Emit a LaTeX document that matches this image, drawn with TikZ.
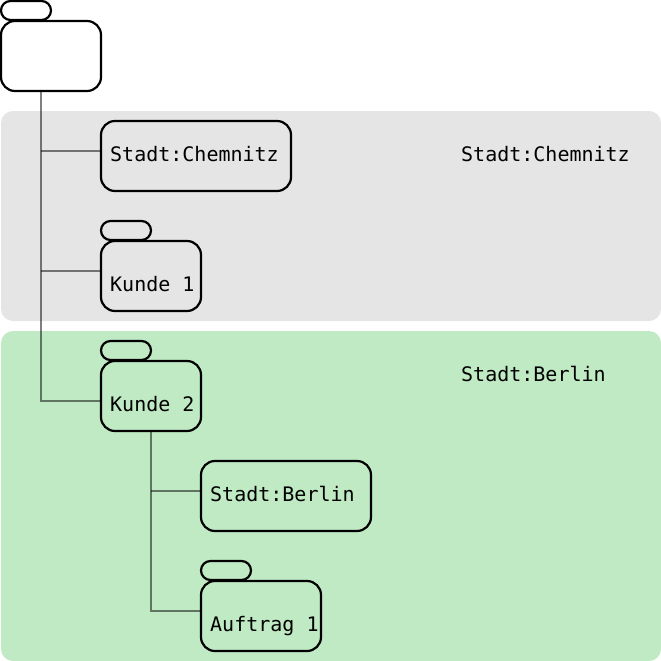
\documentclass[tikz,border=0pt]{standalone}
\usepackage{fontspec}
\setmonofont{DejaVu Sans Mono}
\definecolor{bandgray}{RGB}{229,229,229}
\definecolor{bandgreen}{RGB}{192,234,196}
\tikzset{
  band/.style={rounded corners=12pt},
  item/.style={draw=black, line width=2.2pt, rounded corners=14pt, inner sep=0pt, outer sep=0pt, anchor=north west, minimum height=70pt},
  tab/.style={draw=black, line width=2.2pt, rounded corners=9.5pt, inner sep=0pt, outer sep=0pt, anchor=north west, minimum width=50pt, minimum height=19pt},
  branch/.style={draw=black, draw opacity=0.5, line width=1.5pt},
  txt/.style={font=\ttfamily\fontsize{20}{24}\selectfont, inner sep=0pt, anchor=base west}
}
\begin{document}
\begin{tikzpicture}[x=1pt, y=-1pt]
\useasboundingbox (0,0) rectangle (661,661);
% bands
\fill[band, bandgray] (1,111) rectangle (661,321);
\fill[band, bandgreen] (1,331) rectangle (661,661);
\node[txt] (lblchemnitz) at (461,161) {Stadt:Chemnitz};
\node[txt] (lblberlin) at (461,381) {Stadt:Berlin};
% root
\node[tab] (roottab) at (1,1) {};
\node[item, fill=white, minimum width=100pt] (root) at (1,21) {};
% level 1
\node[item, minimum width=190pt] (chemnitz) at (101,121) {};
\node[txt] (chemnitztxt) at (110,161) {Stadt:Chemnitz};
\node[tab] (kunde1tab) at (101,221) {};
\node[item, minimum width=100pt] (kunde1) at (101,241) {};
\node[txt] (kunde1txt) at (110,291) {Kunde 1};
\node[tab] (kunde2tab) at (101,341) {};
\node[item, minimum width=100pt] (kunde2) at (101,361) {};
\node[txt] (kunde2txt) at (110,411) {Kunde 2};
% level 2
\node[item, minimum width=170pt] (berlin) at (201,461) {};
\node[txt] (berlintxt) at (210,501) {Stadt:Berlin};
\node[tab] (auftrag1tab) at (201,561) {};
\node[item, minimum width=120pt] (auftrag1) at (201,581) {};
\node[txt] (auftrag1txt) at (210,631) {Auftrag 1};
% connectors
\coordinate (trunk) at ([xshift=-10pt]root.south);
\coordinate (trunktwo) at (kunde2.south);
\draw[branch] (trunk) |- ([yshift=-40pt]kunde2.north west);
\draw[branch] (trunk |- chemnitz.north west) ++(0,30) -- ++(60,0);
\draw[branch] (trunk |- kunde1.north west) ++(0,30) -- ++(60,0);
\draw[branch] (trunktwo) |- ([yshift=-30pt]auftrag1.north west);
\draw[branch] (trunktwo |- berlin.north west) ++(0,30) -- ++(50,0);
\end{tikzpicture}
\end{document}
